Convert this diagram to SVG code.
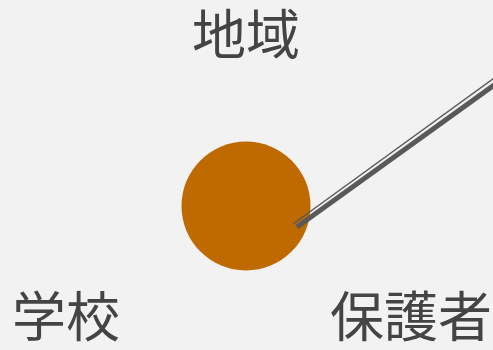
<svg xmlns="http://www.w3.org/2000/svg" width="493" height="350" viewBox="0 0 493 350">
<style>
.lbl{font-family:"Noto Sans CJK JP","Noto Sans CJK SC",sans-serif;font-size:54px;fill:#444;text-anchor:middle}
</style>
<rect width="493" height="350" fill="#f2f2f2"/>
<g id="node-center"><circle cx="246" cy="206" r="64.5" fill="#bf6a00"/></g>
<g id="connectors">
<line x1="297" y1="227" x2="497" y2="83" stroke="#595959" stroke-width="5"/>
<line x1="293" y1="224" x2="497" y2="76" stroke="#595959" stroke-width="1.5"/>
</g>
<g id="node-chiiki"><text class="lbl" x="246" y="55">地域</text></g>
<g id="node-gakko"><text class="lbl" x="66" y="337">学校</text></g>
<g id="node-hogosha"><text class="lbl" x="411" y="337">保護者</text></g>
</svg>
